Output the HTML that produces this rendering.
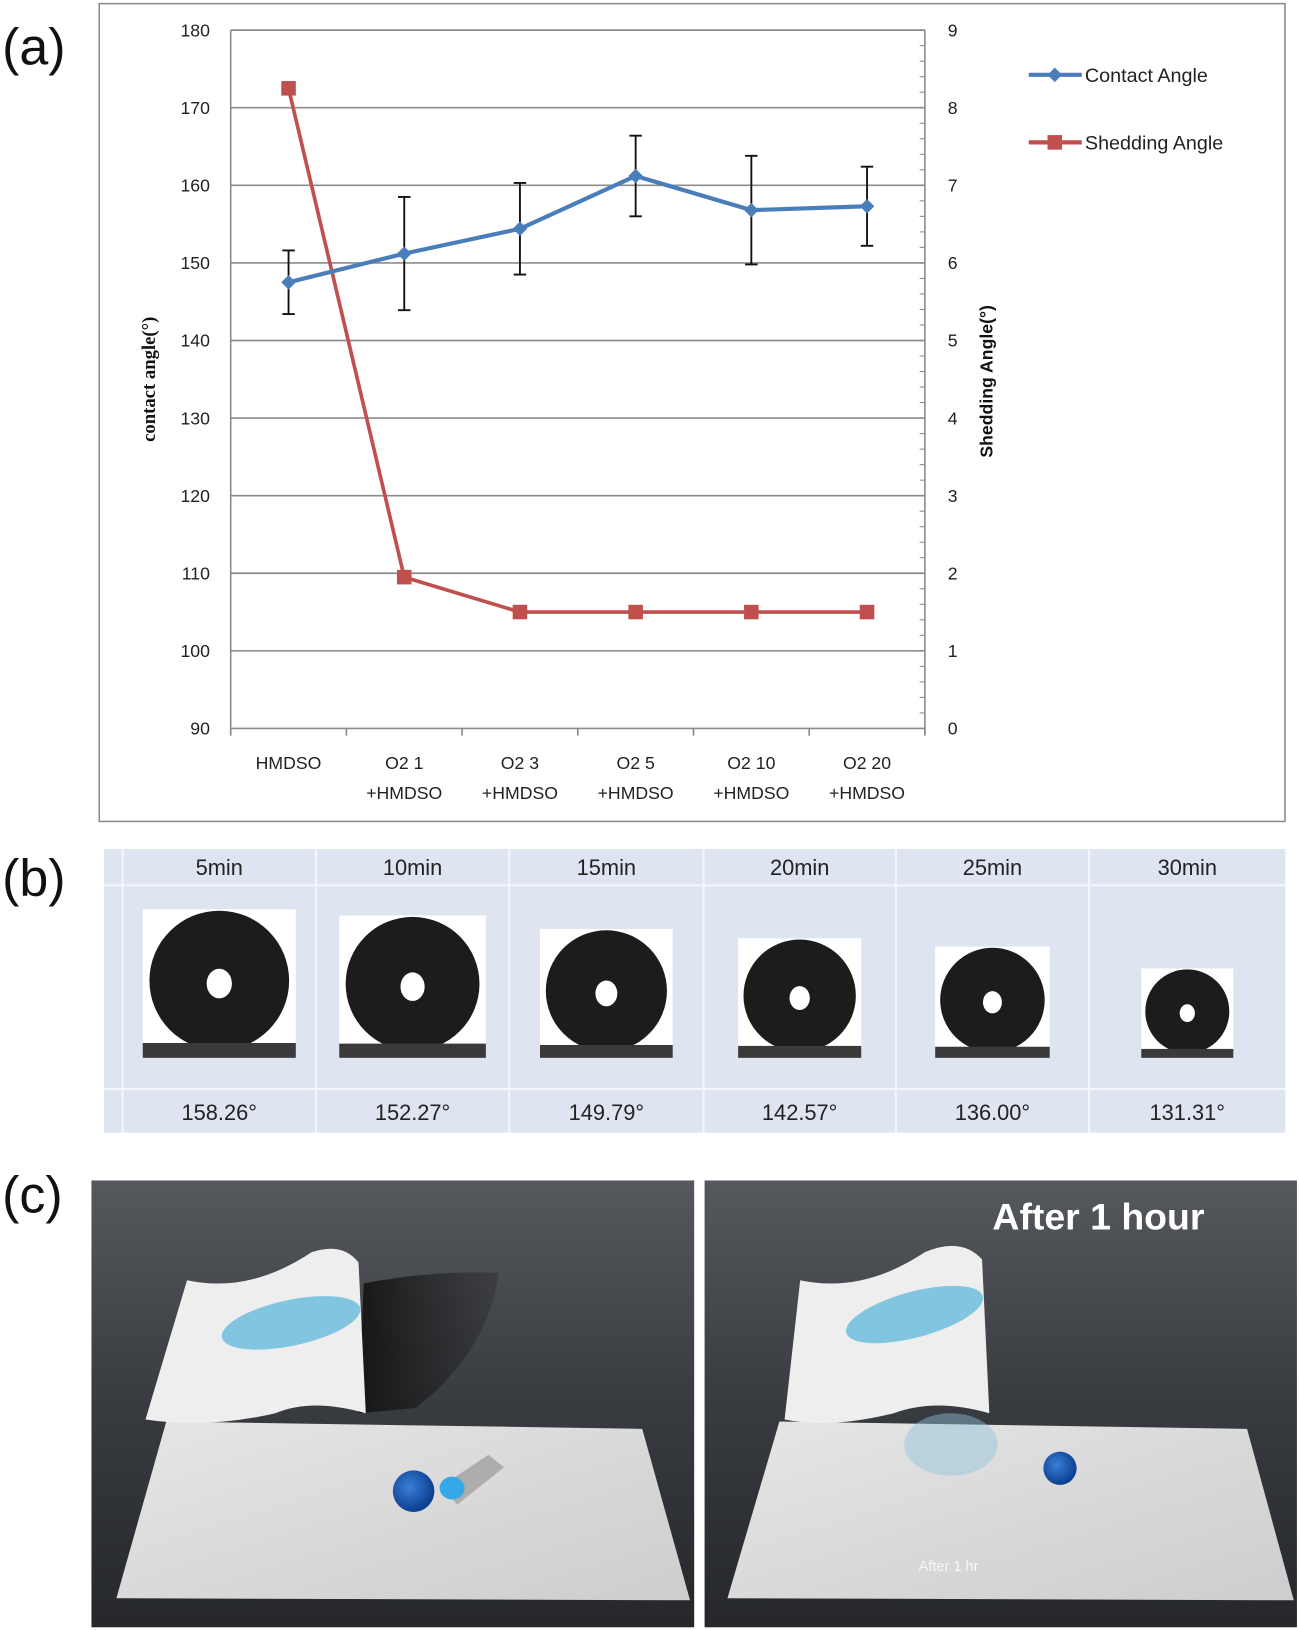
<!DOCTYPE html>
<html><head><meta charset="utf-8">
<style>
html,body{margin:0;padding:0;background:#fff;}
svg{display:block;font-family:"Liberation Sans",sans-serif;}
</style></head>
<body>
<svg id="fig" width="1299" height="1630" viewBox="0 0 1250 1568.6" preserveAspectRatio="none">
<defs>
<linearGradient id="bgL" x1="0" y1="0" x2="0" y2="1">
<stop offset="0" stop-color="#55585d"/><stop offset="0.5" stop-color="#383b40"/><stop offset="1" stop-color="#25272b"/></linearGradient>
<linearGradient id="cloth" x1="0" y1="0" x2="1" y2="1">
<stop offset="0" stop-color="#e6e6e6"/><stop offset="1" stop-color="#cdcdcd"/></linearGradient>
<radialGradient id="drop" cx="0.4" cy="0.4" r="0.6"><stop offset="0" stop-color="#3a7fd8"/><stop offset="1" stop-color="#0b3f8f"/></radialGradient>
<linearGradient id="shadow" x1="0" y1="0" x2="1" y2="0"><stop offset="0" stop-color="#111" stop-opacity="0.9"/><stop offset="1" stop-color="#222" stop-opacity="0.3"/></linearGradient>
</defs>

<text x="2" y="62" font-size="50" fill="#111">(a)</text>
<text x="2" y="862" font-size="50" fill="#111">(b)</text>
<text x="2" y="1167" font-size="50" fill="#111">(c)</text>

<rect x="95.5" y="3.5" width="1141" height="787" fill="#fff" stroke="#8a8a8a" stroke-width="1.5"/>
<g id="chart"></g>

<g>
<rect x="100" y="817" width="1137" height="273" fill="#dfe4f1"/>
<line x1="100" y1="852" x2="1237" y2="852" stroke="#f4f6fb" stroke-width="2"/>
<line x1="100" y1="1048" x2="1237" y2="1048" stroke="#f4f6fb" stroke-width="2"/>
<g id="tbl"></g>
</g>

<g>
<rect x="88" y="1136" width="580" height="430" fill="url(#bgL)"/>
<path d="M350,1235 Q420,1222 480,1225 Q470,1300 400,1355 L345,1360 Z" fill="url(#shadow)"/>
<polygon points="160,1368 618,1375 664,1540 112,1538" fill="url(#cloth)"/>
<path d="M180,1232 Q240,1245 300,1205 Q330,1195 345,1215 L352,1360 Q300,1345 265,1360 Q200,1375 140,1366 Z" fill="#eeeeee"/>
<ellipse cx="280" cy="1273" rx="68" ry="22" fill="#5db7dc" opacity="0.75" transform="rotate(-12 280 1273)"/>
<polygon points="425,1430 470,1400 485,1412 440,1448" fill="#6a6a6a" opacity="0.4"/>
<ellipse cx="435" cy="1432" rx="12" ry="11" fill="#35a8e8"/>
<circle cx="398" cy="1435" r="20" fill="url(#drop)"/>
</g>
<g>
<rect x="678" y="1136" width="570" height="430" fill="url(#bgL)"/>
<polygon points="750,1368 1200,1375 1245,1540 700,1538" fill="url(#cloth)"/>
<path d="M770,1232 Q830,1245 890,1205 Q925,1190 945,1212 L952,1360 Q900,1345 860,1360 Q800,1375 755,1366 Z" fill="#eeeeee"/>
<ellipse cx="880" cy="1265" rx="68" ry="22" fill="#5db7dc" opacity="0.75" transform="rotate(-15 880 1265)"/>
<ellipse cx="915" cy="1390" rx="45" ry="30" fill="#8fc3de" opacity="0.45"/>
<circle cx="1020" cy="1413" r="16" fill="url(#drop)"/>
<text x="955" y="1183" font-size="36" font-weight="bold" fill="#fff">After 1 hour</text>
<text x="884" y="1512" font-size="14" fill="#fff" opacity="0.8">After 1 hr</text>
</g>

<script>
const categories = ["HMDSO","O2 1","O2 3","O2 5","O2 10","O2 20"];
const categories2 = ["","+HMDSO","+HMDSO","+HMDSO","+HMDSO","+HMDSO"];
const contactAngle = [147.5,151.2,154.4,161.2,156.8,157.3];
const contactErr = [4.1,7.3,5.9,5.2,7.0,5.1];
const sheddingAngle = [8.25,1.95,1.5,1.5,1.5,1.5];
const leftTicks = [90,100,110,120,130,140,150,160,170,180];
const rightTicks = [0,1,2,3,4,5,6,7,8,9];
const times = ["5min","10min","15min","20min","25min","30min"];
const angles = ["158.26°","152.27°","149.79°","142.57°","136.00°","131.31°"];
const dropSize = [143,137,124,115,107,86];

const NS="http://www.w3.org/2000/svg";
function mk(tag,attrs,parent,txt){const e=document.createElementNS(NS,tag);for(const k in attrs)e.setAttribute(k,attrs[k]);if(txt!==undefined)e.textContent=txt;parent.appendChild(e);return e;}
const g=document.getElementById('chart');
const X0=222,X1=890,YT=29,YB=701;
const yL=v=>YB-(v-90)/90*(YB-YT);
const yR=v=>YB-v/9*(YB-YT);
const xC=i=>X0+(i+0.5)*(X1-X0)/categories.length;

leftTicks.forEach(t=>{
  const l=mk('line',{x1:X0,x2:X1,y1:yL(t),y2:yL(t),stroke:'#8c8c8c','stroke-width':1.6},g);
  
  
  const tx=mk('text',{x:X0-20,y:yL(t)+6,'text-anchor':'end','font-size':17,fill:'#222'},g,String(t));
  
  
});
rightTicks.forEach(t=>{
  const tx=mk('text',{x:X1+22,y:yR(t)+6,'text-anchor':'start','font-size':17,fill:'#222'},g,String(t));
  
  
});
for(let v=0;v<=9.001;v+=0.2){mk('line',{x1:X1-5,x2:X1,y1:yR(v),y2:yR(v),stroke:'#888','stroke-width':1},g);}
mk('line',{x1:X0,x2:X0,y1:YT,y2:YB+6,stroke:'#888','stroke-width':1.5},g);
mk('line',{x1:X1,x2:X1,y1:YT,y2:YB+6,stroke:'#888','stroke-width':1.5},g);
for(let i=0;i<=categories.length;i++){const x=X0+i*(X1-X0)/categories.length;mk('line',{x1:x,x2:x,y1:YB,y2:YB+7,stroke:'#888','stroke-width':1.5},g);}
categories.forEach((c,i)=>{
  const t=mk('text',{x:xC(i),y:740,'text-anchor':'middle','font-size':17,fill:'#222'},g,c);
  
  
  if(categories2[i]){const t2=mk('text',{x:xC(i),y:769,'text-anchor':'middle','font-size':17,fill:'#222'},g,categories2[i]);
  
  }
});
const yt=mk('text',{x:0,y:0,transform:'translate(149,365) rotate(-90)','text-anchor':'middle','font-size':18,'font-weight':'bold','font-family':'"Liberation Serif",serif',fill:'#111'},g,'contact angle(°)');


const yt2=mk('text',{x:0,y:0,transform:'translate(955,367) rotate(-90)','text-anchor':'middle','font-size':17,'font-weight':'bold',fill:'#111'},g,'Shedding Angle(°)');



contactAngle.forEach((v,i)=>{
  const x=xC(i),a=yL(v+contactErr[i]),b=yL(v-contactErr[i]);
  const eb=mk('path',{d:`M${x},${a}V${b}M${x-6},${a}H${x+6}M${x-6},${b}H${x+6}`,stroke:'#111','stroke-width':1.8,fill:'none'},g);
  
  
});
const sp=mk('polyline',{points:sheddingAngle.map((v,i)=>xC(i)+','+yR(v)).join(' '),fill:'none',stroke:'#c0504d','stroke-width':3.5},g);


sheddingAngle.forEach((v,i)=>{
  const r=mk('rect',{x:xC(i)-7,y:yR(v)-7,width:14,height:14,fill:'#c0504d'},g);
  
  
});
const cp=mk('polyline',{points:contactAngle.map((v,i)=>xC(i)+','+yL(v)).join(' '),fill:'none',stroke:'#4a7ebb','stroke-width':4},g);


contactAngle.forEach((v,i)=>{
  const x=xC(i),y=yL(v);
  const d=mk('polygon',{points:`${x},${y-7} ${x+7},${y} ${x},${y+7} ${x-7},${y}`,fill:'#4a7ebb'},g);
  
  
});
const lg=mk('g',{},g);


mk('line',{x1:990,x2:1041,y1:72,y2:72,stroke:'#4a7ebb','stroke-width':4},lg);
mk('polygon',{points:'1015,65 1022,72 1015,79 1008,72',fill:'#4a7ebb'},lg);
const l1=mk('text',{x:1044,y:79,'font-size':19,fill:'#222'},lg,'Contact Angle');


mk('line',{x1:990,x2:1041,y1:137,y2:137,stroke:'#c0504d','stroke-width':4},lg);
mk('rect',{x:1008,y:130,width:14,height:14,fill:'#c0504d'},lg);
const l2=mk('text',{x:1044,y:144,'font-size':19,fill:'#222'},lg,'Shedding Angle');



const tb=document.getElementById('tbl');
const colX=[118,304,490,677,862,1048,1237];
mk('line',{x1:118,x2:118,y1:817,y2:1090,stroke:'#f4f6fb','stroke-width':2},tb);
times.forEach((t,i)=>{
  const cx=(colX[i]+colX[i+1])/2;
  if(i>0)mk('line',{x1:colX[i],x2:colX[i],y1:817,y2:1090,stroke:'#f4f6fb','stroke-width':2},tb);
  const h=mk('text',{x:cx,y:842,'text-anchor':'middle','font-size':21,fill:'#222'},tb,t);
  
  
  const s=dropSize[i],w=s*1.03,top=1018-s;
  mk('rect',{x:cx-w/2,y:top,width:w,height:s,fill:'#fff'},tb);
  mk('ellipse',{cx:cx,cy:1018-s*0.52,rx:s*0.47,ry:s*0.47,fill:'#1c1c1c'},tb);
  mk('rect',{x:cx-w/2,y:1018-s*0.1,width:w,height:s*0.1,fill:'#3a3a3a'},tb);
  mk('ellipse',{cx:cx,cy:1018-s*0.5,rx:s*0.085,ry:s*0.1,fill:'#fff'},tb);
  const a=mk('text',{x:cx,y:1078,'text-anchor':'middle','font-size':21,fill:'#222'},tb,angles[i]);
  
  
});
</script>
</svg>
</body></html>
